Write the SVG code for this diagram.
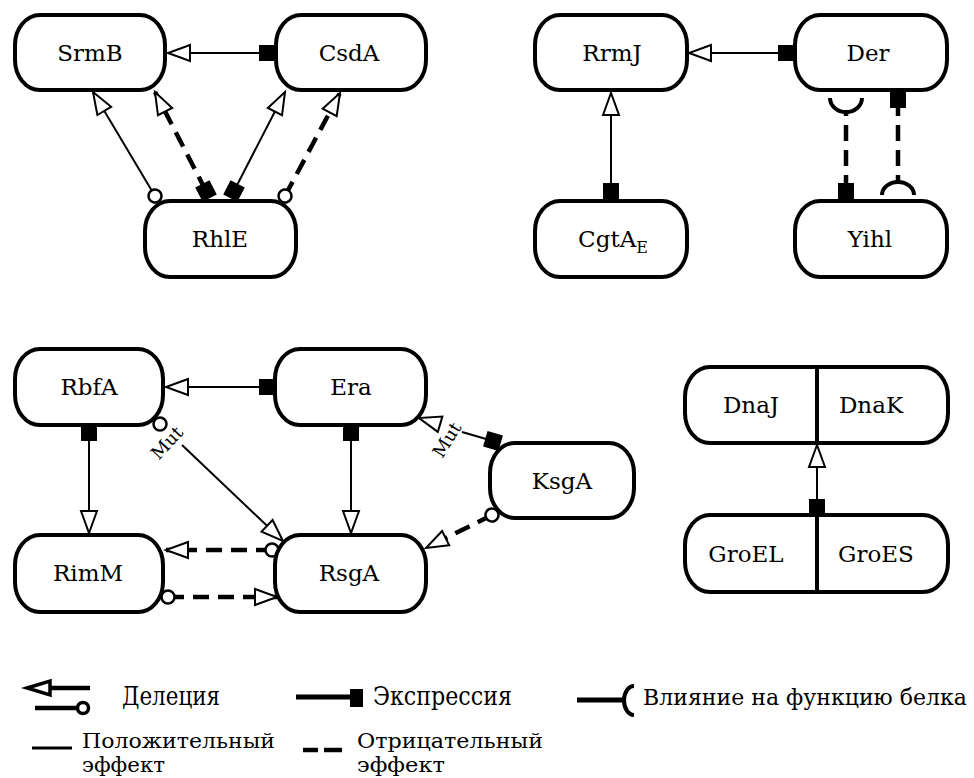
<svg xmlns="http://www.w3.org/2000/svg" width="974" height="778" viewBox="0 0 974 778">
<style>
text{font-family:'DejaVu Serif',serif;fill:#000}
.node{fill:#fff;stroke:#000;stroke-width:4}
.lbl{font-size:23px;text-anchor:middle}
.mut{font-size:18px;text-anchor:middle}
.leg{font-size:26px}
.leg3{font-size:22px}
.leg2{font-size:21px}
.solid{fill:none;stroke:#000;stroke-width:2}
.dash{fill:none;stroke:#000;stroke-width:4.5;stroke-dasharray:16 9}
.thick{fill:none;stroke:#000;stroke-width:4}
.circ{fill:#fff;stroke:#000;stroke-width:2.5}
</style>
<defs>
<marker id="tri" markerUnits="userSpaceOnUse" markerWidth="30" markerHeight="30" refX="22" refY="8" orient="auto" overflow="visible">
<path d="M0,0 L22,8 L0,16 Z" fill="#fff" stroke="#000" stroke-width="2" stroke-dasharray="none"/>
</marker>
<marker id="sq" markerUnits="userSpaceOnUse" markerWidth="16" markerHeight="16" refX="8" refY="8" orient="auto" overflow="visible">
<rect x="0" y="0" width="16" height="16" fill="#000"/>
</marker>
<marker id="ci" markerUnits="userSpaceOnUse" markerWidth="16" markerHeight="16" refX="7" refY="7" orient="auto" overflow="visible">
<circle cx="7" cy="7" r="6.5" fill="#fff" stroke="#000" stroke-width="2.5" stroke-dasharray="none"/>
</marker>
</defs>
<rect width="974" height="778" fill="#fff"/>

<g id="connectors">
<path class="solid" d="M267,53 L168,53" marker-start="url(#sq)" marker-end="url(#tri)"/>
<path class="solid" d="M155,196 L93,92" marker-start="url(#ci)" marker-end="url(#tri)"/>
<path class="dash" d="M206,191 L155,92" marker-start="url(#sq)" marker-end="url(#tri)"/>
<path class="solid" d="M234,191 L285,92" marker-start="url(#sq)" marker-end="url(#tri)"/>
<path class="dash" d="M285,196 L340,93" marker-start="url(#ci)" marker-end="url(#tri)"/>
<path class="solid" d="M786,53 L689,53" marker-start="url(#sq)" marker-end="url(#tri)"/>
<path class="solid" d="M611,191 L611,93" marker-start="url(#sq)" marker-end="url(#tri)"/>
<path class="dash" d="M846,191 L846,112" marker-start="url(#sq)"/>
<path class="thick" d="M830,98 A16,14 0 0 0 862,98"/>
<path class="dash" d="M898,100 L898,182" marker-start="url(#sq)"/>
<path class="thick" d="M882,195 A16,13 0 0 1 914,195"/>
<path class="solid" d="M267,387 L166,387" marker-start="url(#sq)" marker-end="url(#tri)"/>
<path class="solid" d="M89,433 L89,533" marker-start="url(#sq)" marker-end="url(#tri)"/>
<path class="solid" d="M351,433 L351,533" marker-start="url(#sq)" marker-end="url(#tri)"/>
<circle class="circ" cx="160" cy="424" r="6.5"/>
<path class="solid" d="M182,445 L283,541" marker-end="url(#tri)"/>
<text class="mut" transform="translate(167,443) rotate(-47)" x="0" y="6">Mut</text>
<path class="solid" d="M493,441 L462,432" marker-start="url(#sq)"/>
<path class="solid" d="M441,424.5 L419,418" marker-end="url(#tri)"/>
<text class="mut" transform="translate(447,440) rotate(-58)" x="0" y="6">Mut</text>
<path class="dash" d="M492,515 L426,548" marker-start="url(#ci)" marker-end="url(#tri)"/>
<path class="dash" d="M272,550 L166,550" marker-start="url(#ci)" marker-end="url(#tri)"/>
<path class="dash" d="M168,597 L277,597" marker-start="url(#ci)" marker-end="url(#tri)"/>
<path class="solid" d="M817,507 L817,445" marker-start="url(#sq)" marker-end="url(#tri)"/>
</g>

<g id="SrmB"><rect class="node" x="15" y="15" width="150" height="75" rx="25" ry="30"/><text class="lbl" x="90" y="61">SrmB</text></g>
<g id="CsdA"><rect class="node" x="276" y="15" width="150" height="75" rx="25" ry="30"/><text class="lbl" x="349" y="61">CsdA</text></g>
<g id="RhlE"><rect class="node" x="145" y="201" width="151" height="76" rx="25" ry="30"/><text class="lbl" x="220" y="247">RhlE</text></g>
<g id="RrmJ"><rect class="node" x="535" y="15" width="152" height="75" rx="25" ry="30"/><text class="lbl" x="612" y="61">RrmJ</text></g>
<g id="Der"><rect class="node" x="795" y="15" width="152" height="75" rx="25" ry="30"/><text class="lbl" x="868" y="61">Der</text></g>
<g id="CgtAE"><rect class="node" x="535" y="201" width="152" height="76" rx="25" ry="30"/><text class="lbl" x="613" y="247">CgtA<tspan font-size="16" dy="6">E</tspan></text></g>
<g id="Yihl"><rect class="node" x="795" y="201" width="152" height="76" rx="25" ry="30"/><text class="lbl" x="870" y="247">Yihl</text></g>
<g id="RbfA"><rect class="node" x="15" y="349" width="148" height="76" rx="25" ry="30"/><text class="lbl" x="89" y="395">RbfA</text></g>
<g id="Era"><rect class="node" x="275" y="349" width="151" height="76" rx="25" ry="30"/><text class="lbl" x="351" y="395">Era</text></g>
<g id="KsgA"><rect class="node" x="490" y="443" width="144" height="75" rx="25" ry="30"/><text class="lbl" x="562" y="489">KsgA</text></g>
<g id="RimM"><rect class="node" x="15" y="535" width="148" height="77" rx="25" ry="30"/><text class="lbl" x="88" y="581">RimM</text></g>
<g id="RsgA"><rect class="node" x="275" y="535" width="151" height="77" rx="25" ry="30"/><text class="lbl" x="349" y="581">RsgA</text></g>
<g id="DnaJ_DnaK"><rect class="node" x="685" y="367" width="263" height="76" rx="25" ry="30"/><line class="thick" x1="817" y1="367" x2="817" y2="443"/><text class="lbl" x="751" y="413">DnaJ</text><text class="lbl" x="871" y="413">DnaK</text></g>
<g id="GroEL_GroES"><rect class="node" x="685" y="515" width="263" height="77" rx="25" ry="30"/><line class="thick" x1="817" y1="515" x2="817" y2="592"/><text class="lbl" x="746" y="562">GroEL</text><text class="lbl" x="876" y="562">GroES</text></g>

<g id="legend">
<path d="M27,688 L50,681 L50,695 Z" fill="#fff" stroke="#000" stroke-width="3.5"/>
<line x1="50" y1="688" x2="90" y2="688" stroke="#000" stroke-width="4.5"/>
<line x1="35" y1="708" x2="77" y2="708" stroke="#000" stroke-width="4.5"/>
<circle cx="83" cy="708" r="5.5" fill="#fff" stroke="#000" stroke-width="3.5"/>
<text class="leg" x="122" y="705" textLength="98" lengthAdjust="spacingAndGlyphs">Делеция</text>
<line x1="296" y1="697" x2="352" y2="697" stroke="#000" stroke-width="5"/>
<rect x="350" y="689" width="13" height="18" fill="#000"/>
<text class="leg" x="373" y="705" textLength="139" lengthAdjust="spacingAndGlyphs">Экспрессия</text>
<line x1="577" y1="700" x2="625" y2="700" stroke="#000" stroke-width="5"/>
<path d="M634,686 A10,14.5 0 0 0 634,715" fill="none" stroke="#000" stroke-width="4"/>
<text class="leg3" x="643" y="705" textLength="324" lengthAdjust="spacingAndGlyphs">Влияние на функцию белка</text>
<line x1="32" y1="748" x2="72" y2="748" stroke="#000" stroke-width="3"/>
<text class="leg2" x="82" y="748" textLength="193" lengthAdjust="spacingAndGlyphs">Положительный</text>
<text class="leg2" x="82" y="772" textLength="83" lengthAdjust="spacingAndGlyphs">эффект</text>
<line x1="303" y1="750" x2="318" y2="750" stroke="#000" stroke-width="4.5"/>
<line x1="324" y1="750" x2="342" y2="750" stroke="#000" stroke-width="4.5"/>
<text class="leg2" x="357" y="748" textLength="186" lengthAdjust="spacingAndGlyphs">Отрицательный</text>
<text class="leg2" x="357" y="772" textLength="88" lengthAdjust="spacingAndGlyphs">эффект</text>
</g>
</svg>
